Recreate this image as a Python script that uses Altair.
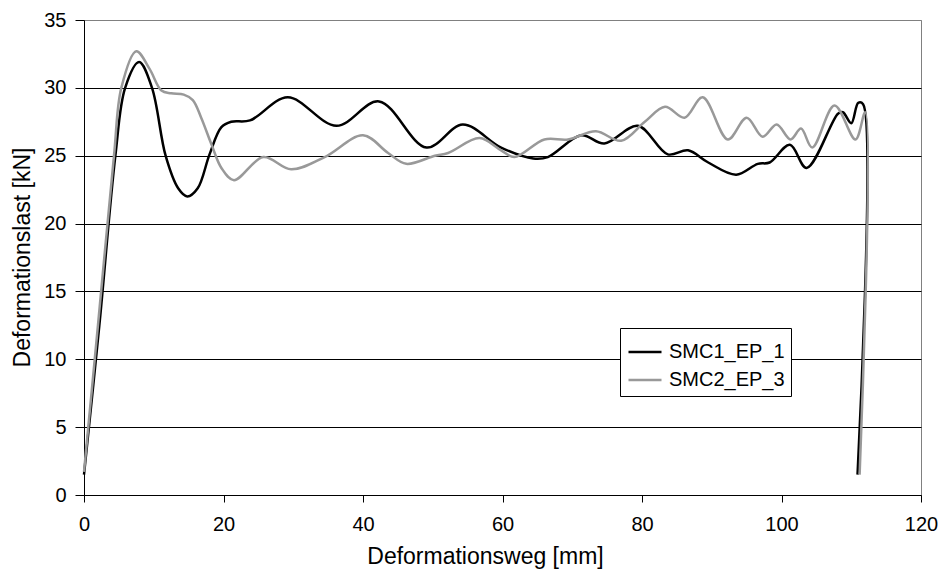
import altair as alt
import pandas as pd

series_names = ["SMC1_EP_1", "SMC2_EP_3"]
series_colors = ["#000000", "#999999"]

smc1_x = [0, 2.2, 4.5, 5.9, 7.9, 9.75, 11.7, 13.5, 14.8, 16.3, 18.0, 19.7, 21.1, 23.8,
          29.2, 36.2, 42.3, 49.1, 54.3, 59.8, 64.4, 66.5, 71.3, 74.6, 79.4, 83.7,
          86.6, 89.5, 93.5, 96.6, 98.3, 101.2, 103.6, 108.1, 108.8, 110.0, 111.0,
          111.7, 110.9]
smc1_y = [1.5, 12.5, 25.0, 30.0, 31.9, 30.0, 25.0, 22.6, 22.0, 22.6, 25.1, 27.1, 27.5, 27.6,
          29.3, 27.2, 29.0, 25.6, 27.3, 25.6, 24.8, 24.9, 26.5, 25.9, 27.2, 25.1,
          25.4, 24.5, 23.6, 24.4, 24.5, 25.8, 24.1, 28.1, 28.2, 27.4, 28.9,
          28.8, 1.5]

smc2_x = [0, 2.0, 4.3, 5.35, 7.5, 9.4, 11.1, 12.5, 14.3, 15.6, 16.8, 18.3, 19.7, 21.5,
          25.7, 29.7, 34.5, 40.0, 43.6, 46.2, 50.3, 52.2, 56.7, 59.8, 61.7, 66.0,
          69.4, 73.4, 77.0, 80.4, 83.3, 86.1, 88.7, 92.3, 95.0, 97.3, 99.3, 101.3,
          102.8, 104.4, 107.6, 110.6, 112.0, 111.2]
smc2_y = [1.7, 12.5, 25.0, 30.0, 32.7, 31.4, 29.8, 29.6, 29.5, 29.1, 27.8, 25.8, 24.1, 23.2,
          24.9, 24.0, 24.9, 26.5, 25.2, 24.4, 25.0, 25.2, 26.3, 25.4, 24.9, 26.2,
          26.2, 26.8, 26.1, 27.5, 28.6, 27.8, 29.3, 26.2, 27.8, 26.4, 27.3, 26.2,
          27.0, 25.6, 28.7, 26.2, 28.2, 1.5]

x_ticks = [0, 20, 40, 60, 80, 100, 120]
y_ticks = [0, 5, 10, 15, 20, 25, 30, 35]

rows = []
for name, xs, ys in [(series_names[0], smc1_x, smc1_y), (series_names[1], smc2_x, smc2_y)]:
    for i, (xv, yv) in enumerate(zip(xs, ys)):
        rows.append({"series": name, "i": i, "x": xv, "y": yv})
df = pd.DataFrame(rows)

FONT = "Liberation Sans"

chart = alt.Chart(df).mark_line(
    interpolate="catmull-rom", strokeWidth=2.5, strokeJoin="round"
).encode(
    x=alt.X("x:Q", scale=alt.Scale(domain=[0, 120], nice=False, zero=False),
            axis=alt.Axis(values=x_ticks, title="Deformationsweg [mm]", grid=False,
                          labelFlush=False, labelOverlap=False,
                          tickSize=7, labelPadding=12, titleX=401, titleY=61,
                          titleAlign="center", titleBaseline="middle",
                          titleFontSize=23, titlePadding=0)),
    y=alt.Y("y:Q", scale=alt.Scale(domain=[0, 35], nice=False),
            axis=alt.Axis(values=y_ticks, title="Deformationslast [kN]", grid=True,
                          labelFlush=False, labelOverlap=False,
                          gridColor={"condition": {"test": "datum.value === 35", "value": "#808080"},
                                     "value": "#000000"},
                          tickSize=9, labelPadding=9, titleX=-62, titleY=237,
                          titleFontSize=23,
                          titleAngle=270, titleBaseline="middle", titleAlign="center")),
    color=alt.Color("series:N",
                    scale=alt.Scale(domain=series_names, range=series_colors),
                    legend=alt.Legend(title=None, orient="none", legendX=536, legendY=308,
                                      direction="vertical", strokeColor="#000000",
                                      fillColor="#ffffff", padding=6, cornerRadius=0,
                                      symbolType="stroke", symbolStrokeWidth=2.5,
                                      symbolSize=1089, symbolOffset=1,
                                      labelFontSize=20, labelFont=FONT,
                                      labelColor="#000000", rowPadding=-4, labelOffset=6)),
    order=alt.Order("i:Q"),
).properties(
    width=837, height=475,
    padding={"left": 76, "top": 12, "right": 18, "bottom": 75},
    autosize=alt.AutoSizeParams(type="none"),
).configure_view(
    stroke="#808080", strokeWidth=1
).configure_axis(
    domainColor="#000000", tickColor="#000000", labelColor="#000000", titleColor="#000000",
    labelFont=FONT, titleFont=FONT, labelFontSize=20,
    titleFontWeight="normal", gridWidth=1, domainWidth=1, tickWidth=1
)

chart.save("out.html", embed_options={"renderer": "svg", "actions": False})
